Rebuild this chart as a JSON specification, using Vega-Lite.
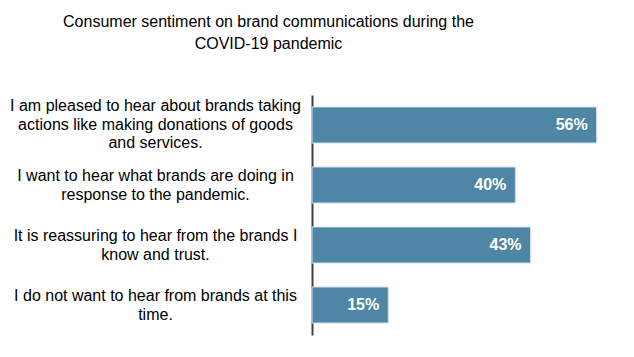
{
  "$schema": "https://vega.github.io/schema/vega-lite/v6.json",
  "autosize": "none",
  "width": 305,
  "height": 240,
  "padding": {"left": 312, "top": 95, "right": 17, "bottom": 22},
  "background": "white",
  "title": {
    "text": ["Consumer sentiment on brand communications during the", "COVID-19 pandemic"],
    "font": "Liberation Sans",
    "fontSize": 16,
    "fontWeight": "normal",
    "color": "#000000",
    "lineHeight": 22,
    "anchor": "middle",
    "dx": -196,
    "offset": 43
  },
  "data": {
    "values": [
      {"statement": "I am pleased to hear about brands taking|actions like making donations of goods|and services.", "value": 56},
      {"statement": "I want to hear what brands are doing in|response to the pandemic.", "value": 40},
      {"statement": "It is reassuring to hear from the brands I|know and trust.", "value": 43},
      {"statement": "I do not want to hear from brands at this|time.", "value": 15}
    ]
  },
  "encoding": {
    "y": {
      "field": "statement",
      "type": "nominal",
      "sort": null,
      "scale": {"paddingInner": 0.4, "paddingOuter": 0.2},
      "axis": {
        "title": null,
        "labelExpr": "split(datum.label, '|')",
        "labelAlign": "center",
        "labelBaseline": "middle",
        "labelPadding": 157,
        "labelOffset": {"condition": {"test": "length(split(datum.label, '|')) > 2", "value": -19}, "value": -9},
        "labelFont": "Liberation Sans",
        "labelFontSize": 16,
        "labelLineHeight": 18.5,
        "labelColor": "#000000",
        "labelLimit": 400,
        "ticks": false,
        "domainColor": "#404040",
        "domainWidth": 2,
        "grid": false
      }
    },
    "x": {
      "field": "value",
      "type": "quantitative",
      "scale": {"domain": [0, 60], "nice": false},
      "axis": null
    }
  },
  "layer": [
    {
      "mark": {"type": "bar", "color": "#4F86A5", "stroke": "#CFE0EC", "strokeWidth": 1}
    },
    {
      "transform": [{"calculate": "datum.value + '%'", "as": "label"}],
      "mark": {"type": "text", "align": "right", "baseline": "middle", "dx": -9, "color": "white", "font": "Liberation Sans", "fontSize": 16, "fontWeight": "bold"},
      "encoding": {
        "text": {"field": "label", "type": "nominal"}
      }
    }
  ],
  "config": {"view": {"stroke": null}}
}
